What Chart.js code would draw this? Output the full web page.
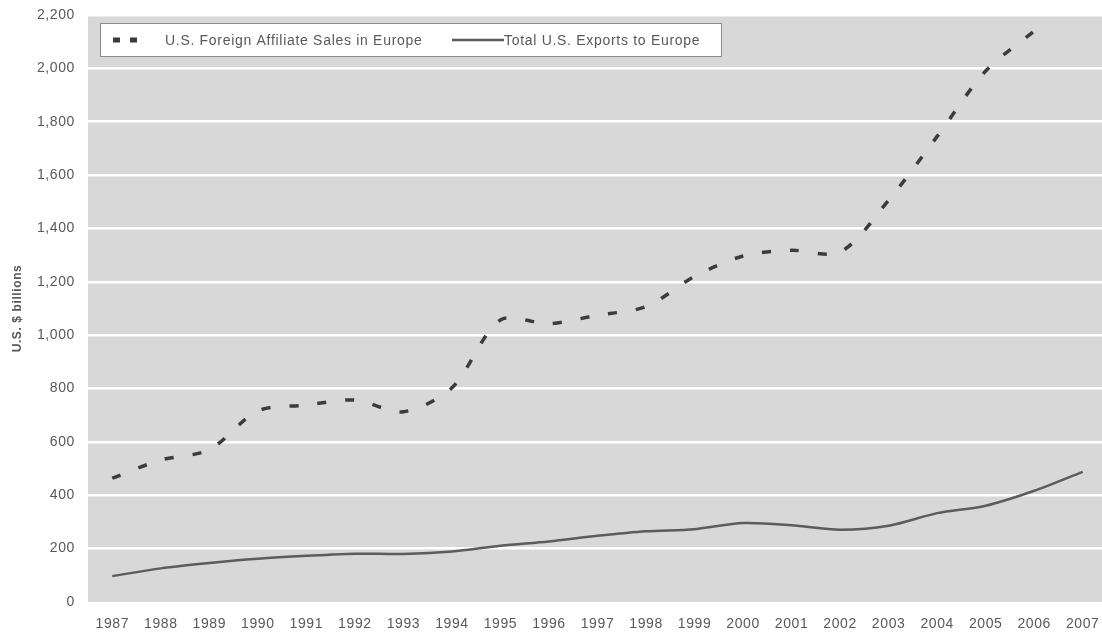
<!DOCTYPE html>
<html>
<head>
<meta charset="utf-8">
<script src="https://cdn.jsdelivr.net/npm/chart.js@4/dist/chart.umd.min.js"></script>
<style>
  html, body { margin: 0; padding: 0; background: #ffffff; overflow: hidden; }
  /* the plot runs slightly past the right edge of the page */
  #wrap { width: 1107px; height: 636px; position: relative; }
</style>
</head>
<body>
<div id="wrap"><canvas id="chart"></canvas></div>
<script>
// Years on the category axis
const years = ['1987', '1988', '1989', '1990', '1991', '1992', '1993', '1994', '1995', '1996', '1997',
               '1998', '1999', '2000', '2001', '2002', '2003', '2004', '2005', '2006', '2007'];

// U.S. foreign affiliate sales in Europe, $ billions
const affiliateSales = [464, 532, 571, 716, 738, 757, 713, 803, 1057, 1043, 1075,
                        1107, 1220, 1297, 1318, 1311, 1506, 1745, 1990, 2140, null];

// Total U.S. exports to Europe, $ billions
const exportsToEurope = [97, 126, 146, 162, 173, 181, 180, 189, 211, 227, 248,
                         265, 273, 296, 288, 271, 286, 333, 361, 417, 488];

// Value axis range
const yMin = 0;
const yMax = 2200;
const yStep = 200;

const seriesNames = ['U.S. Foreign Affiliate Sales in Europe', 'Total U.S. Exports to Europe'];

const FONT = '"Liberation Sans", Arial, sans-serif';
const TEXT_GREY = '#595959';

// Slightly widened text spacing for all canvas text
const spacing = {
  id: 'spacing',
  beforeLayout(chart) { chart.ctx.letterSpacing = '0.6px'; },
  beforeDraw(chart) { chart.ctx.letterSpacing = '0.6px'; }
};

// Grey plot background
const plotBackground = {
  id: 'plotBackground',
  beforeDraw(chart) {
    const { ctx, chartArea: a } = chart;
    ctx.save();
    ctx.fillStyle = '#d8d8d8';
    ctx.fillRect(a.left, a.top, a.right - a.left, a.bottom - a.top);
    ctx.restore();
  }
};

// Boxed legend inside the plot area
const boxLegend = {
  id: 'boxLegend',
  afterDraw(chart) {
    const { ctx, chartArea: a } = chart;
    const x0 = a.left + 12, y0 = a.top + 8, w = 622, h = 34;
    const cy = y0 + h / 2;
    ctx.save();
    ctx.letterSpacing = '0.7px';
    ctx.fillStyle = '#ffffff';
    ctx.fillRect(x0, y0, w, h);
    ctx.strokeStyle = '#8c8c8c';
    ctx.lineWidth = 1;
    ctx.strokeRect(x0 + 0.5, y0 + 0.5, w - 1, h - 1);

    const ds = chart.data.datasets;
    // dashed sample
    ctx.strokeStyle = ds[0].borderColor;
    ctx.lineWidth = 5;
    ctx.lineCap = 'butt';
    ctx.setLineDash([7, 10]);
    ctx.beginPath();
    ctx.moveTo(x0 + 13, cy);
    ctx.lineTo(x0 + 38, cy);
    ctx.stroke();
    // solid sample
    ctx.setLineDash([]);
    ctx.strokeStyle = ds[1].borderColor;
    ctx.lineWidth = 2.5;
    ctx.beginPath();
    ctx.moveTo(x0 + 352, cy);
    ctx.lineTo(x0 + 404, cy);
    ctx.stroke();

    ctx.fillStyle = TEXT_GREY;
    ctx.font = '14px ' + FONT;
    ctx.textBaseline = 'middle';
    ctx.textAlign = 'left';
    ctx.fillText(ds[0].label, x0 + 65, cy + 1);
    ctx.fillText(ds[1].label, x0 + 404, cy + 1);
    ctx.restore();
  }
};

new Chart(document.getElementById('chart'), {
  type: 'line',
  data: {
    labels: years,
    datasets: [
      {
        label: seriesNames[0],
        data: affiliateSales,
        borderColor: '#3c3c3c',
        borderWidth: 3.5,
        borderDash: [9, 19],
        borderCapStyle: 'butt',
        pointRadius: 0,
        tension: 0.3,
        fill: false
      },
      {
        label: seriesNames[1],
        data: exportsToEurope,
        borderColor: '#5c5c5c',
        borderWidth: 2.5,
        pointRadius: 0,
        tension: 0.3,
        fill: false
      }
    ]
  },
  options: {
    responsive: true,
    maintainAspectRatio: false,
    animation: false,
    devicePixelRatio: 1,
    layout: { padding: { top: 15, right: 0, bottom: 0, left: 0 } },
    plugins: {
      legend: { display: false },
      tooltip: { enabled: false },
      title: { display: false }
    },
    scales: {
      x: {
        offset: true,
        grid: { display: false, drawTicks: true, tickLength: 14, tickColor: 'rgba(0,0,0,0)' },
        border: { display: false },
        ticks: {
          color: TEXT_GREY,
          font: { family: FONT, size: 14 },
          padding: 0,
          maxRotation: 0,
          autoSkip: false
        },
        afterFit(scale) { scale.height = 34; }
      },
      y: {
        min: yMin,
        max: yMax,
        grid: {
          color: (c) => (c.tick && c.tick.value === 0 ? 'rgba(0,0,0,0)' : '#ffffff'),
          lineWidth: 2.5,
          drawTicks: true,
          tickLength: 13,
          tickColor: 'rgba(0,0,0,0)'
        },
        border: { display: false },
        ticks: {
          stepSize: yStep,
          color: TEXT_GREY,
          font: { family: FONT, size: 14 },
          padding: 0,
          callback: (v) => v.toLocaleString('en-US')
        },
        title: {
          display: true,
          text: 'U.S. $ billions',
          color: TEXT_GREY,
          font: { family: FONT, size: 12, weight: 'bold' },
          padding: { top: 10, bottom: 0 }
        },
        afterFit(scale) { scale.width = 88; }
      }
    }
  },
  plugins: [spacing, plotBackground, boxLegend]
});
</script>
</body>
</html>
